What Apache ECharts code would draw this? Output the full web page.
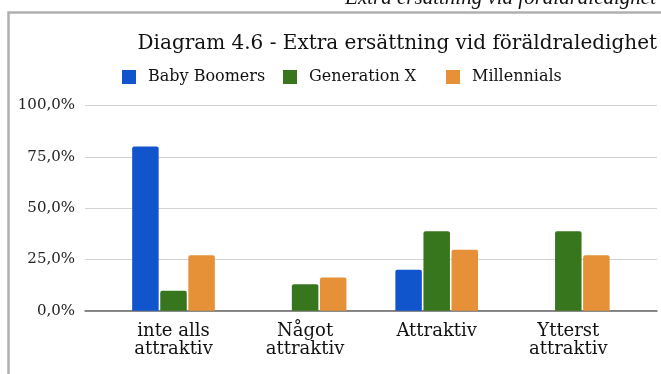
<!DOCTYPE html>
<html>
<head>
<meta charset="utf-8">
<script src="https://cdn.jsdelivr.net/npm/echarts@6/dist/echarts.min.js"></script>
<style>
  html, body { margin: 0; padding: 0; background: #fff; }
  #chart { width: 661px; height: 374px; }
</style>
</head>
<body>
<div id="chart"></div>
<script>
// Survey answers per generation, share of respondents (%)
const categories = ['inte alls\nattraktiv', 'Något\nattraktiv', 'Attraktiv', 'Ytterst\nattraktiv'];
const babyBoomers = [80.0, 0, 20.0, 0];
const generationX = [9.7, 12.9, 38.7, 38.7];
const millennials = [27.0, 16.2, 29.7, 27.0];
const yTicks = [0, 25, 50, 75, 100];

const seriesNames = ['Baby Boomers', 'Generation X', 'Millennials'];
const colors = ['#1155cc', '#38761d', '#e69138'];
const legendLefts = [122, 283, 446];

const serif = '"DejaVu Serif", Georgia, serif';
const plotTop = 105.5;
const plotBottom = 374 - 310.7;

const chart = echarts.init(document.getElementById('chart'), null, { renderer: 'canvas' });

function barSeries(name, data, i) {
  return {
    name: name,
    type: 'bar',
    xAxisIndex: 1,
    yAxisIndex: 1,
    data: data,
    barWidth: 26.5,
    barGap: '6%',
    itemStyle: { color: colors[i], borderRadius: [2, 2, 0, 0] },
    emphasis: { disabled: true }
  };
}

// one legend block per series so each entry sits at its own x
const legends = seriesNames.map((name, i) => ({
  left: legendLefts[i],
  top: 69,
  padding: 0,
  itemWidth: 14,
  itemHeight: 14,
  icon: 'rect',
  data: [name],
  textStyle: { fontFamily: serif, fontSize: 16, color: '#111', padding: [0, 0, 0, 7] }
}));

chart.setOption({
  animation: false,
  color: colors,
  title: {
    text: 'Diagram 4.6 - Extra ersättning vid föräldraledighet',
    right: 4,
    top: 34,
    padding: 0,
    textStyle: { fontFamily: serif, fontWeight: 'normal', fontSize: 20, color: '#111' }
  },
  legend: legends,
  graphic: [
    {
      type: 'rect',
      shape: { x: 8.5, y: 12.5, width: 800, height: 500 },
      style: { fill: 'none', stroke: '#b0b0b0', lineWidth: 2.5 },
      silent: true
    },
    {
      type: 'text',
      right: 5,
      top: -12,
      style: {
        text: 'Extra ersättning vid föräldraledighet',
        font: 'italic 21px "Liberation Serif", "Times New Roman", serif',
        fill: '#111'
      },
      silent: true
    }
  ],
  grid: [
    { left: 85, right: 4, top: plotTop, bottom: plotBottom },
    { left: 107.7, right: 26.9, top: plotTop, bottom: plotBottom }
  ],
  xAxis: [
    {
      gridIndex: 0,
      type: 'category',
      data: [''],
      axisLine: { show: true, lineStyle: { color: '#666', width: 1.5 } },
      axisTick: { show: false },
      axisLabel: { show: false }
    },
    {
      gridIndex: 1,
      type: 'category',
      data: categories,
      axisLine: { show: false },
      axisTick: { show: false },
      axisLabel: {
        margin: 12,
        fontFamily: serif,
        fontSize: 18,
        lineHeight: 18,
        color: '#111',
        interval: 0
      }
    }
  ],
  yAxis: [
    {
      gridIndex: 0,
      type: 'value',
      min: yTicks[0],
      max: yTicks[yTicks.length - 1],
      interval: 25,
      axisLine: { show: false },
      axisTick: { show: false },
      splitLine: { lineStyle: { color: '#d3d3d3', width: 1 } },
      axisLabel: {
        margin: 10,
        fontFamily: serif,
        fontSize: 15,
        color: '#222',
        formatter: v => v.toFixed(1).replace('.', ',') + '%'
      }
    },
    {
      gridIndex: 1,
      type: 'value',
      min: yTicks[0],
      max: yTicks[yTicks.length - 1],
      show: false,
      splitLine: { show: false }
    }
  ],
  series: [
    barSeries(seriesNames[0], babyBoomers, 0),
    barSeries(seriesNames[1], generationX, 1),
    barSeries(seriesNames[2], millennials, 2)
  ]
});
</script>
</body>
</html>
